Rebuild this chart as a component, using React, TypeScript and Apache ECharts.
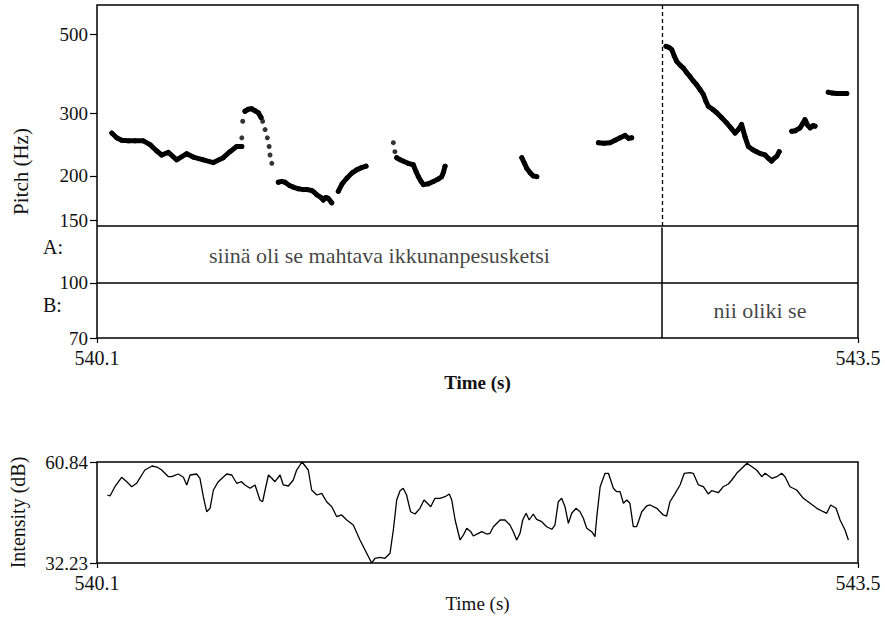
import React, { useEffect, useRef } from "react";
import * as echarts from "echarts";

const timeRange = [540.1, 543.5];
const pitchRange = [70, 605];
const pitchTicks = [70, 100, 150, 200, 300, 500];
const intensityRange = [32.23, 60.84];
const tierLinesHz = [143.2, 100];
const boundaryTime = 542.624;
const tierNames = ["A:", "B:"];
const tierA = [
  { start: 540.1, end: 542.624, text: "siinä oli se mahtava ikkunanpesusketsi" },
  { start: 542.624, end: 543.5, text: "" },
];
const tierB = [
  { start: 540.1, end: 542.624, text: "" },
  { start: 542.624, end: 543.5, text: "nii oliki se" },
];

const pitchContour: number[][][] = [
  [[540.166,264],[540.188,256],[540.210,252],[540.240,251],[540.270,251],[540.307,251],[540.337,245],[540.367,235],[540.389,229],[540.419,233],[540.456,222],[540.501,231],[540.530,226],[540.575,222],[540.620,218],[540.664,225],[540.694,234],[540.724,242],[540.747,242]],
  [[540.761,304],[540.776,308],[540.791,309],[540.806,305],[540.821,301],[540.833,292]],
  [[540.910,192],[540.925,193],[540.940,192],[540.960,188],[540.977,186],[541.000,184],[541.022,183],[541.040,183],[541.059,182],[541.070,180],[541.082,177],[541.100,174],[541.111,171],[541.122,174],[541.133,173],[541.149,168]],
  [[541.178,181],[541.195,190],[541.216,197],[541.240,204],[541.260,208],[541.282,211],[541.302,213]],
  [[541.439,225],[541.455,222],[541.469,220],[541.490,217],[541.513,215],[541.525,206],[541.536,199],[541.548,193],[541.558,189],[541.580,190],[541.603,193],[541.625,196],[541.640,199],[541.648,205],[541.655,213]],
  [[541.998,225],[542.010,217],[542.020,210],[542.035,204],[542.049,200],[542.065,199]],
  [[542.340,248],[542.365,247],[542.392,248],[542.415,252],[542.437,256],[542.459,260],[542.475,255],[542.489,256]],
  [[542.642,463],[542.655,460],[542.668,453],[542.679,435],[542.690,420],[542.705,410],[542.720,402],[542.735,390],[542.749,381],[542.764,370],[542.779,361],[542.794,350],[542.809,339],[542.820,325],[542.831,314],[542.850,308],[542.869,301],[542.890,292],[542.913,282],[542.932,273],[542.951,264],[542.965,270],[542.980,279],[542.995,258],[543.010,242],[543.030,237],[543.047,234],[543.065,231],[543.085,229],[543.100,224],[543.114,220],[543.125,224],[543.137,227],[543.148,234]],
  [[543.204,267],[543.220,268],[543.241,273],[543.252,280],[543.263,288],[543.275,278],[543.286,273],[543.300,277],[543.308,276]],
  [[543.367,344],[543.385,342],[543.405,341],[543.430,341],[543.450,341]],
];

const pitchSparse: number[][] = [
  [540.747,256],[540.751,285],[540.840,285],[540.851,270],[540.861,256],[540.869,242],[540.873,229],[540.881,217],[541.424,248],[541.431,234],
];

const intensity: number[][] = [
  [540.146,51.49],[540.158,51.21],[540.180,53.84],[540.210,56.51],[540.233,55.26],[540.255,53.84],[540.277,54.81],[540.300,57.16],[540.314,58.57],[540.346,59.71],[540.368,59.42],[540.389,58.57],[540.419,56.68],[540.434,56.68],[540.463,57.44],[540.486,56.51],[540.501,54.33],[540.516,57.16],[540.545,57.44],[540.560,56.22],[540.575,51.01],[540.590,46.76],[540.605,47.72],[540.620,52.91],[540.642,55.26],[540.679,57.44],[540.702,57.16],[540.724,54.81],[540.746,55.26],[540.761,54.33],[540.784,53.39],[540.806,54.33],[540.828,50.08],[540.840,49.59],[540.851,52.91],[540.866,57.16],[540.881,56.22],[540.895,55.26],[540.918,57.16],[540.932,54.33],[540.955,54.04],[540.977,55.74],[540.992,58.57],[541.016,60.84],[541.044,58.57],[541.059,52.91],[541.082,51.49],[541.104,51.97],[541.126,49.59],[541.149,48.18],[541.171,45.35],[541.193,45.83],[541.216,44.41],[541.245,42.99],[541.275,38.75],[541.305,34.98],[541.327,32.23],[541.342,33.56],[541.364,33.84],[541.387,33.56],[541.409,34.98],[541.424,41.58],[541.439,50.08],[541.454,52.71],[541.468,53.39],[541.483,51.49],[541.501,46.76],[541.521,46.11],[541.543,47.72],[541.561,50.08],[541.576,49.14],[541.591,48.18],[541.610,50.56],[541.632,50.56],[541.655,51.01],[541.674,51.78],[541.685,50.08],[541.700,44.41],[541.722,38.75],[541.737,40.16],[541.752,42.06],[541.770,41.10],[541.781,39.88],[541.804,40.64],[541.819,41.10],[541.841,40.44],[541.856,40.64],[541.871,42.51],[541.901,44.41],[541.923,44.41],[541.945,42.99],[541.960,41.10],[541.975,38.75],[541.990,40.64],[542.002,44.41],[542.017,46.31],[542.031,44.41],[542.049,46.11],[542.064,44.61],[542.087,43.93],[542.109,42.51],[542.132,41.78],[542.146,42.99],[542.161,49.59],[542.176,50.56],[542.191,48.18],[542.206,43.48],[542.221,46.31],[542.240,47.72],[542.258,46.76],[542.273,44.89],[542.288,42.06],[542.310,41.10],[542.325,39.68],[542.333,45.35],[542.348,53.84],[542.370,57.64],[542.385,57.64],[542.407,53.39],[542.422,52.43],[542.437,52.43],[542.452,49.14],[542.467,50.08],[542.481,49.14],[542.496,42.51],[542.511,42.51],[542.534,46.76],[542.556,48.38],[542.571,48.66],[542.601,47.72],[542.630,45.83],[542.645,45.54],[542.660,49.59],[542.683,51.97],[542.705,54.33],[542.724,57.64],[542.749,57.81],[542.764,57.64],[542.787,54.33],[542.809,53.84],[542.831,51.78],[542.846,52.71],[542.876,52.14],[542.898,53.84],[542.921,54.61],[542.936,55.74],[542.958,57.64],[542.973,58.57],[543.004,60.5],[543.047,58.57],[543.070,56.68],[543.085,57.64],[543.115,56.22],[543.137,56.68],[543.159,57.64],[543.174,56.68],[543.196,53.84],[543.226,52.91],[543.256,50.56],[543.286,49.14],[543.316,47.72],[543.345,46.76],[543.360,46.31],[543.378,48.66],[543.402,47.72],[543.420,44.41],[543.442,41.58],[543.457,38.75],
];

const FONT = "Liberation Serif, Times New Roman, serif";
const INK = "#111";
const lg = (v: number) => Math.log10(v);

export default function App() {
  const ref = useRef<HTMLDivElement>(null);
  useEffect(() => {
    if (!ref.current) return;
    const chart = echarts.init(ref.current, null, { renderer: "svg" });
    const INT_TOP = 462;
    const yText = { fontFamily: FONT, fontSize: 19, color: INK };
    const xText = { fontFamily: FONT, fontSize: 20, color: INK };
    const tierMid = (lo: number, hi: number) => (lg(lo) + lg(hi)) / 2;
    const tierLabelData = [
      ...tierA.filter((d) => d.text).map((d) => ({ value: [(d.start + d.end) / 2, tierMid(tierLinesHz[0], tierLinesHz[1])], name: d.text })),
      ...tierB.filter((d) => d.text).map((d) => ({ value: [(d.start + d.end) / 2, tierMid(tierLinesHz[1], pitchRange[0])], name: d.text })),
    ];
    const pitchSeries = pitchContour.map((seg) => ({
      type: "line",
      xAxisIndex: 0,
      yAxisIndex: 0,
      data: seg.map(([t, hz]) => [t, lg(hz)]),
      showSymbol: true,
      symbol: "circle",
      symbolSize: 5,
      itemStyle: { color: "#000" },
      lineStyle: { color: "#000", width: 5, cap: "round", join: "round" },
      silent: true,
      z: 5,
    }));
    const option: any = {
      animation: false,
      backgroundColor: "#fff",
      grid: [
        { left: 97, right: 27, top: 5, height: 333, show: true, borderColor: "#000", borderWidth: 1.5, backgroundColor: "transparent" },
        { left: 97, right: 27, top: INT_TOP, height: 563 - INT_TOP, show: true, borderColor: "#000", borderWidth: 1.5, backgroundColor: "transparent" },
      ],
      xAxis: [0, 1].map((i) => ({
        type: "value",
        gridIndex: i,
        min: timeRange[0],
        max: timeRange[1],
        axisLine: { show: false },
        splitLine: { show: false },
        axisTick: { show: true, customValues: timeRange, length: 5, lineStyle: { color: "#000", width: 1.2 } },
        axisLabel: { ...xText, customValues: timeRange, margin: 10, formatter: (v: number) => v.toFixed(1) },
        name: "Time (s)",
        nameLocation: "middle",
        nameGap: i === 0 ? 35 : 30,
        nameTextStyle: { fontFamily: FONT, fontSize: 19, color: INK, fontWeight: i === 0 ? "bold" : "normal" },
      })),
      yAxis: [
        {
          type: "value",
          gridIndex: 0,
          min: lg(pitchRange[0]),
          max: lg(pitchRange[1]),
          axisLine: { show: false },
          splitLine: { show: false },
          axisTick: { show: true, customValues: pitchTicks.map(lg), length: 7, lineStyle: { color: "#000", width: 1.2 } },
          axisLabel: { ...yText, customValues: pitchTicks.map(lg), margin: 9, formatter: (v: number) => String(Math.round(Math.pow(10, v))) },
          name: "Pitch (Hz)",
          nameLocation: "middle",
          nameGap: 66,
          nameTextStyle: { fontFamily: FONT, fontSize: 21, color: INK },
        },
        {
          type: "value",
          gridIndex: 1,
          min: intensityRange[0],
          max: intensityRange[1],
          axisLine: { show: false },
          splitLine: { show: false },
          axisTick: { show: true, customValues: intensityRange, length: 7, lineStyle: { color: "#000", width: 1.2 } },
          axisLabel: { ...yText, customValues: intensityRange, margin: 9, formatter: (v: number) => v.toFixed(2) },
          name: "Intensity (dB)",
          nameLocation: "middle",
          nameGap: 69,
          nameTextStyle: { fontFamily: FONT, fontSize: 20, color: INK },
        },
      ],
      graphic: tierNames.map((n, i) => ({
        type: "text",
        left: 43,
        top: i === 0 ? 237 : 295,
        style: { text: n, font: `20px ${FONT}`, fill: INK },
      })),
      series: [
        ...pitchSeries,
        {
          type: "scatter",
          xAxisIndex: 0,
          yAxisIndex: 0,
          data: pitchSparse.map(([t, hz]) => [t, lg(hz)]),
          symbol: "circle",
          symbolSize: 5,
          itemStyle: { color: "#000" },
          silent: true,
          z: 5,
        },
        {
          type: "scatter",
          xAxisIndex: 0,
          yAxisIndex: 0,
          data: tierLabelData,
          symbolSize: 0,
          silent: true,
          label: { show: true, position: "inside", formatter: "{b}", fontFamily: FONT, fontSize: 22, color: INK },
          markLine: {
            silent: true,
            symbol: ["none", "none"],
            label: { show: false },
            lineStyle: { color: "#000", width: 1.5, type: "solid" },
            data: [
              ...tierLinesHz.map((hz) => ({ yAxis: lg(hz) })),
              [
                { coord: [boundaryTime, lg(pitchRange[1])], lineStyle: { type: [4, 3], width: 1.3, color: "#000" } },
                { coord: [boundaryTime, lg(tierLinesHz[0])] },
              ],
              [
                { coord: [boundaryTime, lg(tierLinesHz[0])] },
                { coord: [boundaryTime, lg(pitchRange[0])] },
              ],
            ],
          },
        },
        {
          type: "line",
          xAxisIndex: 1,
          yAxisIndex: 1,
          data: intensity,
          showSymbol: false,
          silent: true,
          lineStyle: { color: "#000", width: 1.3 },
        },
      ],
    };
    chart.setOption(option);
    return () => chart.dispose();
  }, []);
  return <div ref={ref} style={{ position: "fixed", left: 0, top: 0, width: 885, height: 619, background: "#fff" }} />;
}
